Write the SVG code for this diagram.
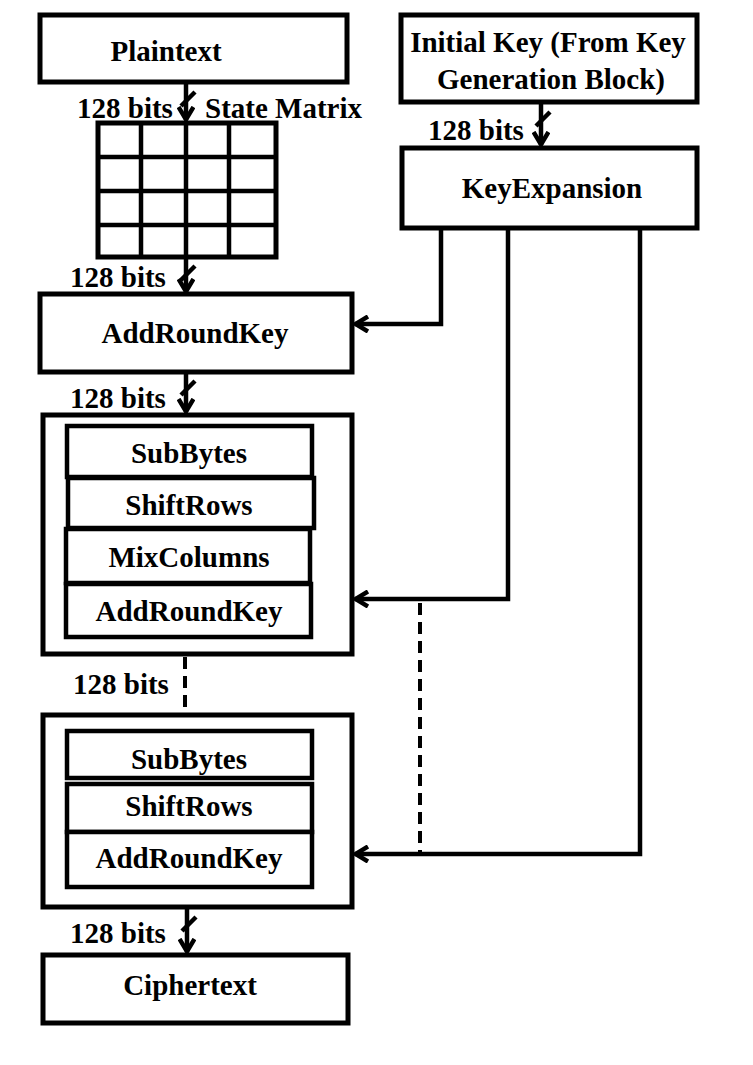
<svg xmlns="http://www.w3.org/2000/svg" width="753" height="1065" viewBox="0 0 753 1065">
<style>
.box{fill:#fff;stroke:#000;stroke-width:5}
.in{fill:#fff;stroke:#000;stroke-width:4.5}
.ln{fill:none;stroke:#000;stroke-width:4.5}
.dash{fill:none;stroke:#000;stroke-width:4;stroke-dasharray:12,7}
.t{font-family:"Liberation Serif","Times New Roman",serif;font-weight:bold;font-size:29px;fill:#000}
.c{text-anchor:middle}
</style>
<defs>
<marker id="ah" viewBox="0 0 16 18" refX="14" refY="9" markerWidth="16" markerHeight="18" markerUnits="userSpaceOnUse" orient="auto">
<path d="M1,1.5 L13.5,9 L1,16.5" fill="none" stroke="#000" stroke-width="4.5"/>
</marker>
</defs>
<g id="connectors">
<path class="ln" d="M186,82 V120" marker-end="url(#ah)"/>
<path class="ln" d="M195,92 L181,106"/>
<path class="ln" d="M186,257 V292" marker-end="url(#ah)"/>
<path class="ln" d="M195,266 L181,280"/>
<path class="ln" d="M186,372 V412" marker-end="url(#ah)"/>
<path class="ln" d="M195,381 L181,395"/>
<path class="ln" d="M541,102 V145" marker-end="url(#ah)"/>
<path class="ln" d="M550,112 L536,126"/>
<path class="ln" d="M187,907 V952" marker-end="url(#ah)"/>
<path class="ln" d="M196,917 L182,931"/>
<path class="ln" d="M441,228 V324 H355" marker-end="url(#ah)"/>
<path class="ln" d="M508,228 V599 H355" marker-end="url(#ah)"/>
<path class="ln" d="M640,228 V854 H355" marker-end="url(#ah)"/>
<path class="dash" d="M420,603 V852"/>
<path class="dash" d="M185,657 V712"/>
</g>
<g id="plaintext">
<rect class="box" x="40" y="15" width="307" height="67"/>
<text class="t c" x="166" y="61">Plaintext</text>
</g>
<g id="initialkey">
<rect class="box" x="401" y="15" width="296" height="87"/>
<text class="t c" x="548" y="52">Initial Key (From Key</text>
<text class="t c" x="551" y="89">Generation Block)</text>
</g>
<g id="labels">
<text class="t" x="77" y="118">128 bits</text>
<text class="t" x="205" y="118">State Matrix</text>
<text class="t" x="70" y="287">128 bits</text>
<text class="t" x="70" y="408">128 bits</text>
<text class="t" x="428" y="140">128 bits</text>
<text class="t" x="73" y="694">128 bits</text>
<text class="t" x="70" y="943">128 bits</text>
</g>
<g id="statematrix">
<rect class="box" x="98" y="123" width="178" height="134"/>
<path class="ln" d="M141,123 V257 M186,123 V257 M229,123 V257 M98,157 H276 M98,191 H276 M98,225 H276"/>
</g>
<g id="keyexpansion">
<rect class="box" x="402" y="148" width="295" height="80"/>
<text class="t c" x="552" y="198">KeyExpansion</text>
</g>
<g id="addroundkey0">
<rect class="box" x="40" y="294" width="312" height="78"/>
<text class="t c" x="195" y="343">AddRoundKey</text>
</g>
<g id="round1">
<rect class="box" x="43" y="415" width="309" height="239"/>
<rect class="in" x="67" y="426" width="245" height="51"/>
<text class="t c" x="189" y="463">SubBytes</text>
<rect class="in" x="68" y="478" width="246" height="50"/>
<text class="t c" x="189" y="515">ShiftRows</text>
<rect class="in" x="66" y="529" width="244" height="54"/>
<text class="t c" x="189" y="567">MixColumns</text>
<rect class="in" x="66" y="584" width="245" height="53"/>
<text class="t c" x="189" y="621">AddRoundKey</text>
</g>
<g id="round2">
<rect class="box" x="43" y="715" width="309" height="192"/>
<rect class="in" x="67" y="731" width="245" height="47"/>
<text class="t c" x="189" y="769">SubBytes</text>
<rect class="in" x="67" y="784" width="245" height="48"/>
<text class="t c" x="189" y="816">ShiftRows</text>
<rect class="in" x="67" y="832" width="245" height="55"/>
<text class="t c" x="189" y="868">AddRoundKey</text>
</g>
<g id="ciphertext">
<rect class="box" x="43" y="955" width="305" height="68"/>
<text class="t c" x="190" y="995">Ciphertext</text>
</g>
</svg>
